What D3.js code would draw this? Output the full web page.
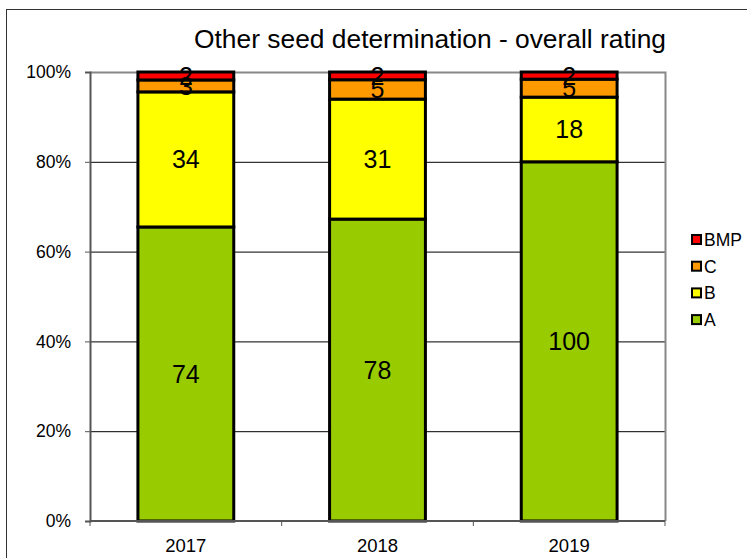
<!DOCTYPE html>
<html><head><meta charset="utf-8">
<script src="https://cdn.jsdelivr.net/npm/d3@7"></script>
<style>body{margin:0;background:#fff}svg{display:block;font-family:"Liberation Sans",Arial,sans-serif}</style>
</head><body>
<svg id="c" width="747" height="558"></svg>
<script>
const years = ["2017", "2018", "2019"];
const seriesNames = ["A", "B", "C", "BMP"];
const valuesA = [74, 78, 100];
const valuesB = [34, 31, 18];
const valuesC = [3, 5, 5];
const valuesBMP = [2, 2, 2];
const yTicks = [0, 0.2, 0.4, 0.6, 0.8, 1];
const colors = {A: "#99cc00", B: "#ffff00", C: "#ff9900", BMP: "#ff0000"};
const title = "Other seed determination - overall rating";

const svg = d3.select("#c");
svg.append("rect").attr("x", 6.5).attr("y", 9.5).attr("width", 800).attr("height", 600)
  .attr("fill", "none").attr("stroke", "#333").attr("stroke-width", 1);

const m = {l: 90, r: 665, t: 72, b: 521};
const x = d3.scaleBand().domain(years).range([m.l, m.r]).paddingInner(0.5).paddingOuter(0.25);
const y = d3.scaleLinear().domain([0, 1]).range([m.b, m.t]);

const rows = years.map((yr, i) => ({year: yr, A: valuesA[i], B: valuesB[i], C: valuesC[i], BMP: valuesBMP[i]}));
rows.forEach(r => { const t = r.A + r.B + r.C + r.BMP; seriesNames.forEach(s => r[s + "_p"] = r[s] / t); });
const stack = d3.stack().keys(seriesNames.map(s => s + "_p"))(rows);

// gridlines
svg.append("g").selectAll("line").data(yTicks.slice(1, -1)).join("line")
  .attr("x1", m.l).attr("x2", m.r).attr("y1", d => y(d) + 0.5).attr("y2", d => y(d) + 0.5)
  .attr("stroke", "#000").attr("stroke-width", 1);
// plot area border top/right
svg.append("path").attr("d", `M${m.l},${m.t + 0.5}H${m.r + 0.5}V${m.b}`)
  .attr("fill", "none").attr("stroke", "#888").attr("stroke-width", 2);

// bars
stack.forEach((layer, li) => {
  const name = seriesNames[li];
  svg.append("g").selectAll("rect").data(layer).join("rect")
    .attr("x", d => x(d.data.year)).attr("width", x.bandwidth())
    .attr("y", d => y(d[1])).attr("height", d => y(d[0]) - y(d[1]))
    .attr("fill", colors[name]).attr("stroke", "#000").attr("stroke-width", 3);
});
stack.forEach((layer, li) => {
  const name = seriesNames[li];
  svg.append("g").selectAll("text").data(layer).join("text")
    .attr("x", d => x(d.data.year) + x.bandwidth() / 2)
    .attr("y", d => (y(d[0]) + y(d[1])) / 2)
    .attr("text-anchor", "middle").attr("dominant-baseline", "central")
    .attr("font-size", 25).attr("fill", "#000")
    .text(d => d.data[name]);
});

// y axis
const ya = svg.append("g").attr("transform", `translate(${m.l},0)`)
  .call(d3.axisLeft(y).tickValues(yTicks).tickFormat(d3.format(".0%")).tickSize(5).tickPadding(14));
ya.select(".domain").attr("stroke", "#555").attr("stroke-width", 2);
ya.selectAll(".tick line").attr("stroke", "#555");
ya.selectAll("text").attr("font-size", 17.5).attr("font-family", "Liberation Sans, Arial, sans-serif").attr("fill", "#000");

// x axis
const xa = svg.append("g").attr("transform", `translate(0,${m.b})`);
xa.append("line").attr("x1", m.l).attr("x2", m.r).attr("stroke", "#555").attr("stroke-width", 2);
const bounds = [0, 1, 2, 3].map(i => m.l + i * (m.r - m.l) / 3);
xa.selectAll(".tk").data(bounds).join("line").attr("class", "tk")
  .attr("x1", d => d).attr("x2", d => d).attr("y1", 0).attr("y2", 5).attr("stroke", "#555");
xa.selectAll("text").data(years).join("text")
  .attr("x", d => x(d) + x.bandwidth() / 2).attr("y", 31)
  .attr("text-anchor", "middle").attr("font-size", 18.5).text(d => d);

// title
svg.append("text").attr("x", 430).attr("y", 48).attr("text-anchor", "middle")
  .attr("font-size", 25).attr("textLength", 472).attr("lengthAdjust", "spacingAndGlyphs").text(title);

// legend
const legendOrder = ["BMP", "C", "B", "A"];
const lg = svg.append("g").selectAll("g").data(legendOrder).join("g")
  .attr("transform", (d, i) => `translate(692,${240 + i * 26.7})`);
lg.append("rect").attr("x", 0).attr("y", -5).attr("width", 9).attr("height", 9)
  .attr("fill", d => colors[d]).attr("stroke", "#000").attr("stroke-width", 2);
lg.append("text").attr("x", 12).attr("y", 0).attr("dominant-baseline", "central")
  .attr("font-size", 17.5).text(d => d);
</script>
</body></html>
